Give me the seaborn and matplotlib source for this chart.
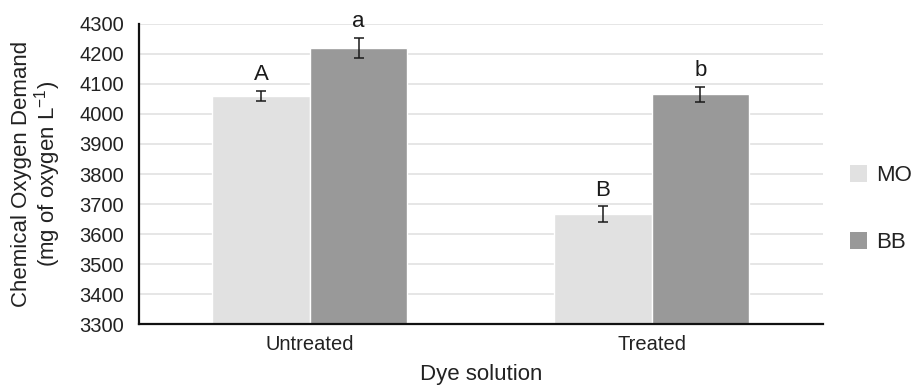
import matplotlib
matplotlib.use("Agg")
import matplotlib.pyplot as plt
import seaborn as sns
import pandas as pd
from matplotlib.patches import Patch

# Chemical oxygen demand of the dye solutions before and after treatment
conditions = ["Untreated", "Treated"]
dyes = ["MO", "BB"]
mo_values = [4060, 3667]
bb_values = [4221, 4066]
mo_errors = [18, 26]
bb_errors = [33, 25]
mo_letters = ["A", "B"]
bb_letters = ["a", "b"]
y_ticks = list(range(3300, 4301, 100))

colors = {"MO": "#e1e1e1", "BB": "#999999"}

df = pd.DataFrame({
    "Dye solution": conditions * 2,
    "Dye": ["MO"] * len(conditions) + ["BB"] * len(conditions),
    "COD": mo_values + bb_values,
    "err": mo_errors + bb_errors,
    "letter": mo_letters + bb_letters,
})

sns.set_theme(style="white")
plt.rcParams["font.family"] = ["Liberation Sans", "DejaVu Sans"]

fig = plt.figure(figsize=(9.14, 3.85), dpi=100)
ax = fig.add_axes([0.152, 0.158, 0.748, 0.780])

sns.barplot(data=df, x="Dye solution", y="COD", hue="Dye", order=conditions,
            hue_order=dyes, palette=colors, width=0.57, errorbar=None,
            ax=ax, legend=False, zorder=2)

# error bars and significance letters on top of each bar
for container, dye in zip(ax.containers, dyes):
    sub = df[df["Dye"] == dye].set_index("Dye solution").loc[conditions]
    for patch, (_, row) in zip(container.patches, sub.iterrows()):
        xc = patch.get_x() + patch.get_width() / 2
        ax.errorbar(xc, row["COD"], yerr=row["err"], fmt="none",
                    ecolor="#1a1a1a", elinewidth=1.1, capsize=3.6,
                    capthick=1.1, zorder=3)
        ax.annotate(row["letter"], (xc, row["COD"] + row["err"]),
                    xytext=(0, 4), textcoords="offset points",
                    ha="center", va="bottom", fontsize=16, color="#1a1a1a")

ax.set_ylim(3300, 4300)
ax.set_xlim(-0.5, len(conditions) - 0.5)
ax.set_yticks(y_ticks)
ax.yaxis.grid(True, color="#e2e2e2", linewidth=1.2, zorder=0)
ax.set_axisbelow(True)

# category boundary ticks on the x axis
ax.set_xticks([i - 0.5 for i in range(len(conditions) + 1)], minor=True)
ax.tick_params(axis="x", which="major", length=0, labelsize=14.5, pad=8,
               colors="#222222")
ax.tick_params(axis="x", which="minor", length=5, width=1.2, color="#222222",
               direction="out")
ax.tick_params(axis="y", length=4.3, width=1.2, color="#222222",
               direction="out", labelsize=14.5, pad=6.5, labelcolor="#222222")

for side in ["top", "right"]:
    ax.spines[side].set_visible(False)
for side in ["left", "bottom"]:
    ax.spines[side].set_color("#111111")
    ax.spines[side].set_linewidth(1.6)

ax.set_xlabel("Dye solution", fontsize=16, color="#222222", labelpad=7)
ax.set_ylabel("Chemical Oxygen Demand\n(mg of oxygen L$^{\\mathregular{-1}}$)",
              fontsize=16, color="#222222", labelpad=11.5, linespacing=1.0)

handles = [Patch(facecolor=colors[d], edgecolor="none") for d in dyes]
ax.legend(handles, dyes, loc="center left", bbox_to_anchor=(1.04, 0.383),
          frameon=False, fontsize=16, handlelength=0.78, handleheight=0.78,
          labelspacing=2.05, handletextpad=0.38, labelcolor="#222222",
          borderaxespad=0.0, borderpad=0.0)

fig.savefig("out.png", dpi=100)
